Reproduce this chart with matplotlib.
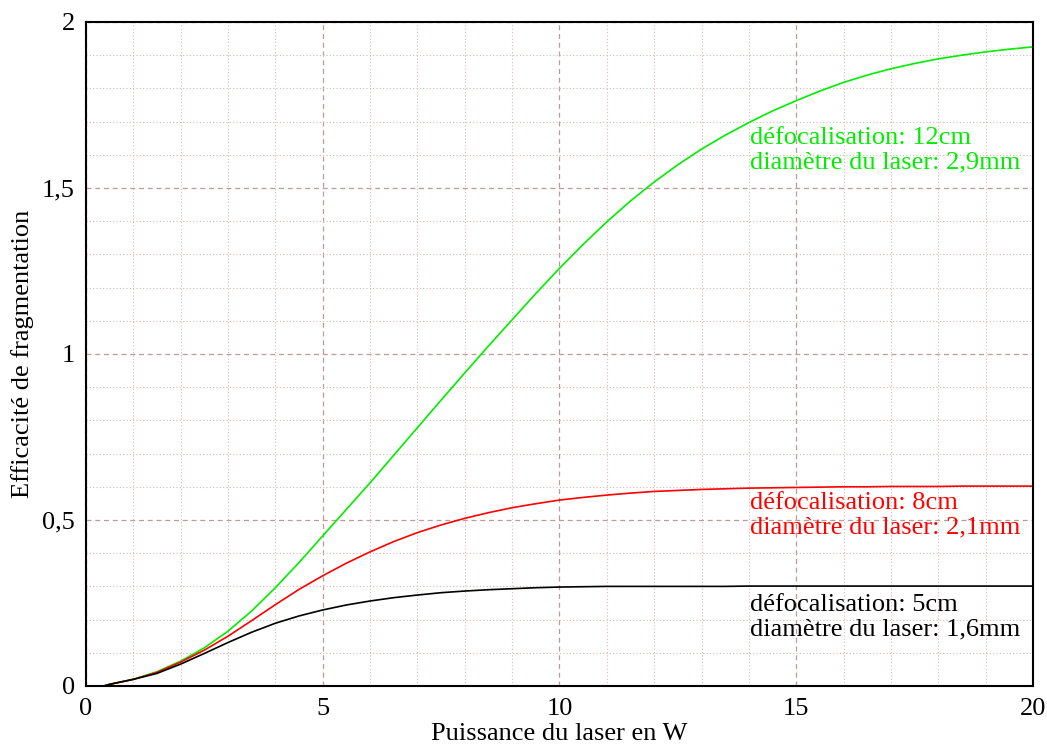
import numpy as np
import matplotlib
matplotlib.use("Agg")
import matplotlib.pyplot as plt
from matplotlib.ticker import MultipleLocator, FuncFormatter

# Puissance du laser (W)
puissance = [0.4, 0.5, 1, 1.5, 2, 2.5, 3, 3.5, 4, 4.5, 5, 5.5, 6, 6.5, 7, 7.5,
             8, 8.5, 9, 9.5, 10, 10.5, 11, 11.5, 12, 12.5, 13, 13.5, 14, 14.5,
             15, 15.5, 16, 16.5, 17, 17.5, 18, 18.5, 19, 19.5, 20]

# Efficacité de fragmentation
eff_12cm = [0.001, 0.005, 0.020, 0.043, 0.075, 0.115, 0.165, 0.226, 0.296, 0.372,
            0.452, 0.532, 0.612, 0.695, 0.778, 0.861, 0.943, 1.024, 1.103, 1.182,
            1.258, 1.330, 1.398, 1.461, 1.518, 1.570, 1.617, 1.659, 1.697, 1.732,
            1.763, 1.792, 1.818, 1.840, 1.859, 1.875, 1.889, 1.900, 1.910, 1.918,
            1.925]
eff_8cm = [0.001, 0.005, 0.020, 0.041, 0.072, 0.108, 0.150, 0.197, 0.245, 0.291,
           0.332, 0.370, 0.404, 0.435, 0.462, 0.485, 0.505, 0.522, 0.537, 0.549,
           0.560, 0.568, 0.575, 0.581, 0.586, 0.589, 0.592, 0.594, 0.596, 0.597,
           0.598, 0.599, 0.600, 0.600, 0.601, 0.601, 0.601, 0.602, 0.602, 0.602,
           0.602]
eff_5cm = [0.001, 0.005, 0.020, 0.038, 0.066, 0.098, 0.131, 0.162, 0.189, 0.211,
           0.229, 0.244, 0.256, 0.266, 0.274, 0.281, 0.286, 0.290, 0.293, 0.296,
           0.298, 0.299, 0.300, 0.300, 0.300, 0.300, 0.300, 0.300, 0.301, 0.301,
           0.301, 0.301, 0.301, 0.301, 0.301, 0.301, 0.301, 0.301, 0.301, 0.301,
           0.301]

labels = ["défocalisation: 12cm\ndiamètre du laser: 2,9mm",
          "défocalisation: 8cm\ndiamètre du laser: 2,1mm",
          "défocalisation: 5cm\ndiamètre du laser: 1,6mm"]
label_y = [1.613, 0.515, 0.207]
colors = ["#00ee00", "#ff0000", "#000000"]

plt.rcParams["font.family"] = ["Liberation Serif", "DejaVu Serif"]

fig = plt.figure(figsize=(10.47, 7.45), dpi=100)
ax = fig.add_axes([0.0821, 0.0792, 0.9045, 0.8913])

for y, c in zip([eff_12cm, eff_8cm, eff_5cm], colors):
    ax.plot(puissance, y, color=c, lw=1.2)

for txt, ty, c in zip(labels, label_y, colors):
    ax.text(14.02, ty, txt, color=c, fontsize=19, va="center", ha="left",
            linespacing=1.12)

ax.set_xlim(0, 20)
ax.set_ylim(0, 2)
ax.xaxis.set_major_locator(MultipleLocator(5))
ax.xaxis.set_minor_locator(MultipleLocator(1))
ax.yaxis.set_major_locator(MultipleLocator(0.5))
ax.yaxis.set_minor_locator(MultipleLocator(0.1))

fmt = FuncFormatter(lambda v, p: f"{v:g}".replace(".", ","))
ax.xaxis.set_major_formatter(fmt)
ax.yaxis.set_major_formatter(fmt)

ax.grid(True, which="major", color="#c09a9a", ls=(0, (4, 3)), lw=0.9)
ax.grid(True, which="minor", color="#ddb8b8", ls=(0, (1, 2)), lw=0.8)
ax.set_axisbelow(True)

ax.tick_params(which="both", length=0, labelsize=19)
ax.tick_params(axis="y", pad=8)
ax.tick_params(axis="x", pad=9)
for s in ax.spines.values():
    s.set_linewidth(1.5)

ax.set_xlabel("Puissance du laser en W", fontsize=19, labelpad=2)
ax.set_ylabel("Efficacité de fragmentation", fontsize=19, labelpad=6)

fig.savefig("out.png", dpi=100)
